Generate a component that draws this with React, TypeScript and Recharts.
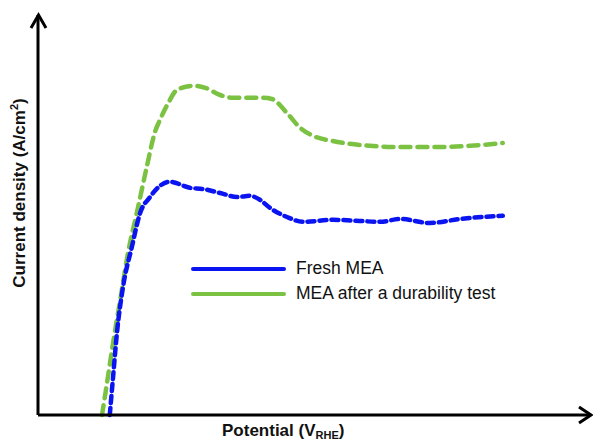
import React from 'react';
import { LineChart, Line, XAxis, YAxis } from 'recharts';

// potential (arbitrary units, 0-100) vs current density (arbitrary units, 0-100)
const freshX = [13.0, 13.6, 14.3, 15.4, 17.0, 18.5, 20.3, 22.1, 23.9, 27.5, 29.9, 33.0, 36.1, 38.4, 40.2, 42.0, 45.1, 48.0, 53.4, 58.3, 62.0, 65.6, 71.0, 76.4, 84.2];
const freshY = [0, 9.5, 20.5, 32, 42, 50.5, 54.5, 57.3, 58.3, 56.8, 56.5, 55.5, 54.5, 54.8, 53.8, 51.8, 49.5, 48.3, 48.8, 48.5, 48.3, 49, 48, 49, 49.8];

const agedX = [11.6, 12.5, 13.6, 14.9, 16.3, 17.9, 19.7, 21.2, 22.1, 23.6, 25.2, 28.1, 30.3, 33.0, 35.3, 40.8, 42.4, 45.1, 47.5, 49.8, 53.4, 60.1, 65.6, 72.8, 78.3, 84.2];
const agedY = [0, 8, 18, 28.8, 40.5, 50.5, 62, 70.8, 73.8, 78, 81.3, 82.3, 81.8, 80, 79.3, 79.3, 79, 75.5, 71.8, 69.8, 68.5, 67.3, 67, 67, 67.3, 68];

const freshData = freshX.map((x, i) => ({ x, y: freshY[i] }));
const agedData = agedX.map((x, i) => ({ x, y: agedY[i] }));

const BLUE = '#0a14f0';
const GREEN = '#7cc242';
const FONT = '"Liberation Sans", Arial, sans-serif';

const legendItems = [
  { label: 'Fresh MEA', color: BLUE },
  { label: 'MEA after a durability test', color: GREEN }
];

export default function App() {
  return (
    <div style={{ position: 'fixed', left: 0, top: 0, width: 593, height: 441, background: '#fff' }}>
      <LineChart
        width={593}
        height={441}
        margin={{ top: 15, right: 3, left: 30, bottom: 18 }}
      >
        <XAxis
          type="number"
          dataKey="x"
          domain={[0, 100]}
          height={8}
          tick={false}
          tickLine={false}
          axisLine={{ stroke: '#000', strokeWidth: 3 }}
        />
        <YAxis
          type="number"
          dataKey="y"
          domain={[0, 100]}
          width={8}
          tick={false}
          tickLine={false}
          axisLine={{ stroke: '#000', strokeWidth: 3 }}
        />
        <Line
          data={agedData}
          dataKey="y"
          name="MEA after a durability test"
          type="monotone"
          stroke={GREEN}
          strokeWidth={4.5}
          strokeDasharray="10 7"
          strokeLinecap="round"
          dot={false}
          isAnimationActive={false}
        />
        <Line
          data={freshData}
          dataKey="y"
          name="Fresh MEA"
          type="monotone"
          stroke={BLUE}
          strokeWidth={4.5}
          strokeDasharray="7 5"
          strokeLinecap="round"
          dot={false}
          isAnimationActive={false}
        />
      </LineChart>

      {/* legend */}
      <div style={{ position: 'absolute', left: 191, top: 256, fontFamily: FONT, fontSize: 17.5, color: '#111' }}>
        {legendItems.map((item) => (
          <div key={item.label} style={{ display: 'flex', alignItems: 'center', height: 25 }}>
            <div style={{ width: 95, height: 4, borderRadius: 2, background: item.color, marginRight: 10 }} />
            <span>{item.label}</span>
          </div>
        ))}
      </div>

      <svg
        width={593}
        height={441}
        style={{ position: 'absolute', left: 0, top: 0, pointerEvents: 'none' }}
      >
        <polyline points="31,28 38.5,15 46,28" fill="none" stroke="#000" strokeWidth={3} />
        <polyline points="579,407 591,415 579,423" fill="none" stroke="#000" strokeWidth={3} />
        <text
          x={25}
          y={193}
          transform="rotate(-90 25 193)"
          textAnchor="middle"
          fontFamily={FONT}
          fontWeight="bold"
          fontSize={17}
          fill="#111"
        >
          Current density (A/cm<tspan dy={-7} fontSize={11}>2</tspan><tspan dy={7}>)</tspan>
        </text>
        <text x={222} y={436} fontFamily={FONT} fontWeight="bold" fontSize={17} fill="#111">
          Potential (V<tspan dy={3} fontSize={11}>RHE</tspan><tspan dy={-3}>)</tspan>
        </text>
      </svg>
    </div>
  );
}
